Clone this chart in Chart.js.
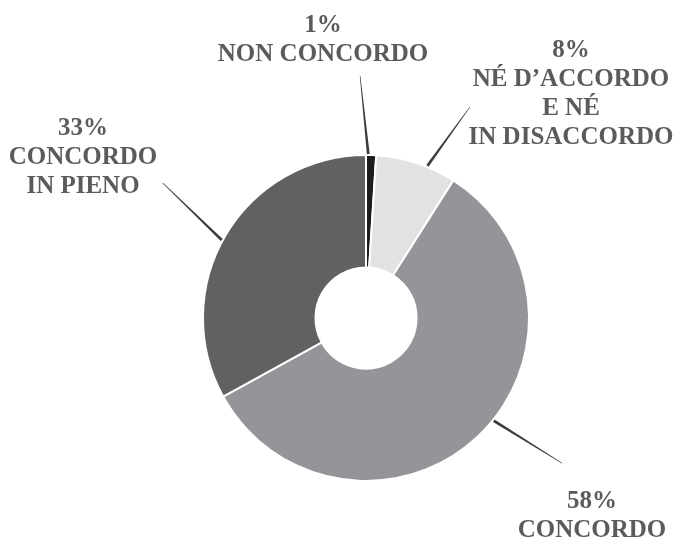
<!DOCTYPE html>
<html>
<head>
<meta charset="utf-8">
<script src="https://cdn.jsdelivr.net/npm/chart.js@4"></script>
<style>
  body { margin: 0; background: #fff; }
  canvas { display: block; }
</style>
</head>
<body>
<canvas id="chart" width="679" height="539"></canvas>
<script>
// data
const categories = ["NON CONCORDO", "NÉ D’ACCORDO E NÉ IN DISACCORDO", "CONCORDO", "CONCORDO IN PIENO"];
const categoryLines = [
  ["NON CONCORDO"],
  ["NÉ D’ACCORDO", "E NÉ", "IN DISACCORDO"],
  ["CONCORDO"],
  ["CONCORDO", "IN PIENO"],
];
const values = [1, 8, 58, 33];
const sliceColors = ["#1c1c1c", "#e1e2e3", "#939598", "#616163"];

// label layout: leader start angle on the ring, leader end (polar), text anchor
const labelLayout = [
  { startDeg: 0.8, endDeg: 358.6, endR: 242, tx: 323, ty: 32 },
  { startDeg: 22, endDeg: 26.2, endR: 235, tx: 571, ty: 57 },
  { startDeg: 128.8, endDeg: 126.5, endR: 244, tx: 592, ty: 508 },
  { startDeg: 298.4, endDeg: 303.6, endR: 244, tx: 83, ty: 135 },
];
const lineHeight = 29;

const labelsPlugin = {
  id: "labels",
  afterDatasetsDraw(chart) {
    const ctx = chart.ctx;
    const arcs = chart.getDatasetMeta(0).data;
    ctx.save();
    arcs.forEach((arc, i) => {
      const L = labelLayout[i];
      const a0 = (L.startDeg - 90) * Math.PI / 180;
      const a1 = (L.endDeg - 90) * Math.PI / 180;
      const x0 = arc.x + Math.cos(a0) * (arc.outerRadius + 1);
      const y0 = arc.y + Math.sin(a0) * (arc.outerRadius + 1);
      const x1 = arc.x + Math.cos(a1) * L.endR;
      const y1 = arc.y + Math.sin(a1) * L.endR;
      const len = Math.hypot(x1 - x0, y1 - y0);
      const nx = -(y1 - y0) / len, ny = (x1 - x0) / len;
      // tapered leader line
      ctx.fillStyle = "#3c3c3e";
      ctx.beginPath();
      ctx.moveTo(x0 + nx * 1.4, y0 + ny * 1.4);
      ctx.lineTo(x1 + nx * 0.3, y1 + ny * 0.3);
      ctx.lineTo(x1 - nx * 0.3, y1 - ny * 0.3);
      ctx.lineTo(x0 - nx * 1.4, y0 - ny * 1.4);
      ctx.closePath();
      ctx.fill();

      ctx.fillStyle = "#5a5b5d";
      ctx.font = 'bold 25px "Liberation Serif", serif';
      ctx.textAlign = "center";
      ctx.textBaseline = "alphabetic";
      const lines = [values[i] + "%"].concat(categoryLines[i]);
      lines.forEach((t, j) => ctx.fillText(t, L.tx, L.ty + j * lineHeight));
    });
    ctx.restore();
  },
};

var ctx = document.getElementById("chart").getContext("2d");
var pieChart = new Chart(ctx, {
  type: "doughnut",
  data: {
    labels: categories,
    datasets: [
      {
        data: values,
        backgroundColor: sliceColors,
        borderColor: "#ffffff",
        borderWidth: 2,
      },
    ],
  },
  options: {
    responsive: false,
    animation: false,
    events: [],
    radius: 163,
    cutout: "31%",
    layout: {
      padding: { left: 203, right: 150, top: 155, bottom: 58 },
    },
    plugins: {
      legend: { display: false },
      tooltip: { enabled: false },
    },
  },
  plugins: [labelsPlugin],
});
</script>
</body>
</html>
